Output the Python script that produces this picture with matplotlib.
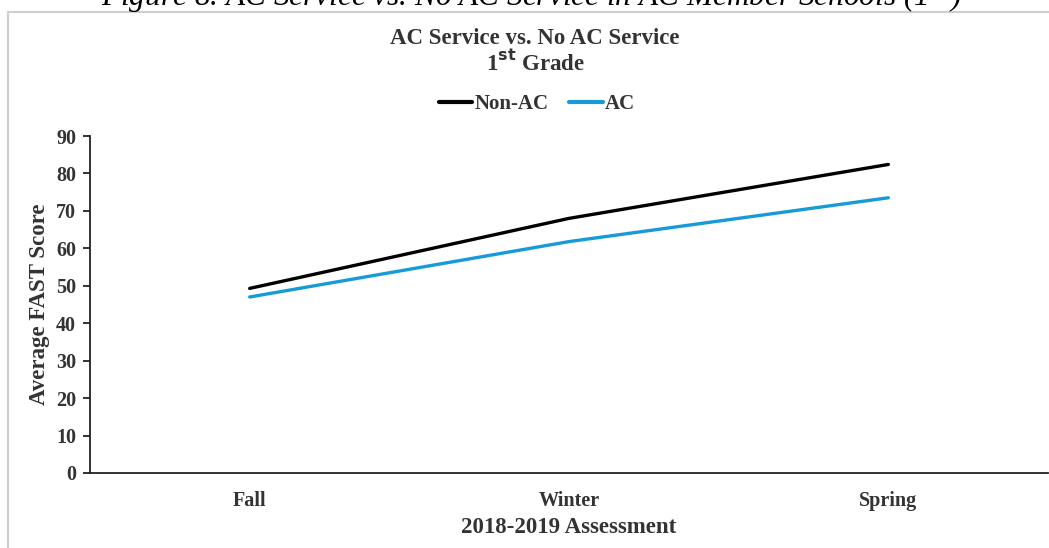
import matplotlib
matplotlib.use("Agg")
import matplotlib.pyplot as plt
from matplotlib.patches import Rectangle

categories = ["Fall", "Winter", "Spring"]
non_ac = [49.3, 68.0, 82.4]
ac = [47.0, 61.8, 73.5]
yticks = [0, 10, 20, 30, 40, 50, 60, 70, 80, 90]

plt.rcParams['font.family'] = ['Liberation Serif', 'DejaVu Serif']

W, H = 1049, 548
fig = plt.figure(figsize=(W / 100, H / 100), dpi=100)

# border frame
fig.patches.append(Rectangle((8 / W, -0.1), 1.2, 1 - 12 / H + 0.1,
                             transform=fig.transFigure, fill=False,
                             edgecolor='#cfcfcf', linewidth=1.5))

# cropped caption
fig.text(531 / W, 1 - 6 / H,
         "Figure 8. AC Service vs. No AC Service in AC Member Schools (1$^{st}$)",
         ha='center', va='baseline', fontsize=22.5, style='italic', color='black')

ax = fig.add_axes([90 / W, 1 - 473 / H, 958 / W, 337 / H])
x = range(len(categories))
ax.plot(x, non_ac, color='black', linewidth=2.4, label='Non-AC', solid_capstyle='round')
ax.plot(x, ac, color='#169bd8', linewidth=2.4, label='AC', solid_capstyle='round')

ax.set_xlim(-0.5, 2.5)
ax.set_ylim(0, 90)
ax.set_yticks(yticks)
ax.set_xticks(list(x))
ax.set_xticklabels(categories)
for s in ['top', 'right']:
    ax.spines[s].set_visible(False)
for s in ['left', 'bottom']:
    ax.spines[s].set_linewidth(1.3)
    ax.spines[s].set_color('#222222')
ax.tick_params(axis='y', direction='out', length=5, width=1.3, pad=5,
               labelsize=14.5, colors='#222222')
ax.tick_params(axis='x', length=0, pad=13, labelsize=14.5, colors='#222222')
for lab in ax.get_xticklabels() + ax.get_yticklabels():
    lab.set_fontweight('bold')
    lab.set_color('#333333')

ax.set_xlabel("2018-2019 Assessment", fontsize=16.5, fontweight='bold',
              color='#333333', labelpad=4)
ax.set_ylabel("Average FAST Score", fontsize=16.5, fontweight='bold',
              color='#333333', labelpad=4)

fig.text(535 / W, 1 - 38 / H, "AC Service vs. No AC Service", ha='center',
         va='center', fontsize=16.5, fontweight='bold', color='#333333')
fig.text(535 / W, 1 - 63 / H, "1$^{\\mathbf{st}}$ Grade", ha='center',
         va='center', fontsize=16.5, fontweight='bold', color='#333333')

leg = fig.legend(loc='center', bbox_to_anchor=(537 / W, 1 - 104 / H), ncol=2,
                 frameon=False, handlelength=1.6, handletextpad=0.1,
                 columnspacing=1.0, prop={'weight': 'bold', 'size': 15})
for t in leg.get_texts():
    t.set_color('#333333')
for l in leg.get_lines():
    l.set_linewidth(3)

fig.savefig("out.png", dpi=100)
